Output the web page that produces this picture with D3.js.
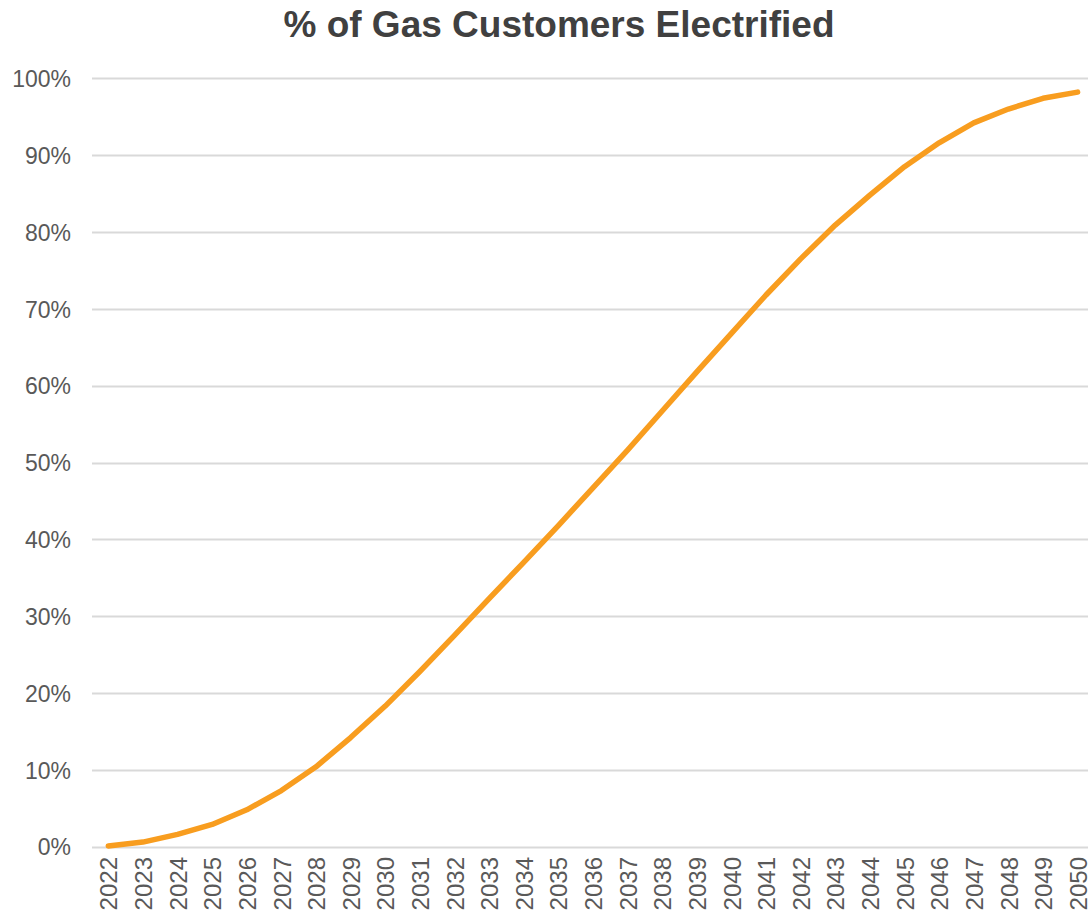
<!DOCTYPE html>
<html>
<head>
<meta charset="utf-8">
<script src="https://cdn.jsdelivr.net/npm/d3@7"></script>
<style>
  body { margin: 0; background: #fff; }
  .chart text { font-family: "Liberation Sans", Arial, sans-serif; }
</style>
</head>
<body>
<div class="chart"></div>
<script>
var years = ["2022", "2023", "2024", "2025", "2026", "2027", "2028", "2029", "2030", "2031",
    "2032", "2033", "2034", "2035", "2036", "2037", "2038", "2039", "2040", "2041",
    "2042", "2043", "2044", "2045", "2046", "2047", "2048", "2049", "2050"];
var electrified = [0.001, 0.006, 0.016, 0.029, 0.048, 0.073, 0.104, 0.142, 0.183, 0.228,
    0.275, 0.323, 0.370, 0.418, 0.467, 0.516, 0.567, 0.618, 0.668, 0.718,
    0.765, 0.809, 0.848, 0.885, 0.916, 0.942, 0.960, 0.974, 0.982];
var yTicks = [0, 0.1, 0.2, 0.3, 0.4, 0.5, 0.6, 0.7, 0.8, 0.9, 1.0];
var chartTitle = "% of Gas Customers Electrified";

var svgWidth = 1088;
var svgHeight = 917;

var svg = d3.select(".chart")
    .append("svg")
    .attr("width", svgWidth)
    .attr("height", svgHeight);

var xScale = d3.scalePoint()
    .domain(years)
    .range([108.3, 1077.6]);

var yScale = d3.scaleLinear()
    .domain([0, 1])
    .range([846.7, 78.3]);

// gridlines
svg.append("g")
    .selectAll("line")
    .data(yTicks)
    .enter()
    .append("line")
    .attr("x1", 92)
    .attr("x2", svgWidth)
    .attr("y1", function(d) { return Math.round(yScale(d)) + 0.5; })
    .attr("y2", function(d) { return Math.round(yScale(d)) + 0.5; })
    .attr("stroke", "#d9d9d9")
    .attr("stroke-width", 2);

// y axis labels
var leftAxis = d3.axisLeft(yScale)
    .tickValues(yTicks)
    .tickFormat(d3.format(".0%"))
    .tickSize(0)
    .tickPadding(0);

var yAxisG = svg.append("g")
    .attr("transform", "translate(71,0)")
    .call(leftAxis);
yAxisG.select(".domain").remove();
yAxisG.selectAll("text")
    .style("font-size", "23px")
    .attr("fill", "#595959")
    .attr("dy", "0.36em");

// x axis labels
var bottomAxis = d3.axisBottom(xScale)
    .tickSize(0)
    .tickPadding(0);

var xAxisG = svg.append("g")
    .attr("transform", "translate(0,857)")
    .call(bottomAxis);
xAxisG.select(".domain").remove();
xAxisG.selectAll("text")
    .style("font-size", "24px")
    .attr("fill", "#595959")
    .attr("text-anchor", "end")
    .attr("transform", "rotate(-90)")
    .attr("x", 0)
    .attr("y", 0)
    .attr("dx", 0)
    .attr("dy", "0.36em");

// line
var line = d3.line()
    .x(function(d, i) { return xScale(years[i]); })
    .y(function(d) { return yScale(d); });

svg.append("path")
    .datum(electrified)
    .attr("d", line)
    .attr("fill", "none")
    .attr("stroke", "#f89d1f")
    .attr("stroke-width", 5.5)
    .attr("stroke-linejoin", "round")
    .attr("stroke-linecap", "round");

// title
svg.append("text")
    .attr("x", 559)
    .attr("y", 37)
    .attr("text-anchor", "middle")
    .style("font-size", "37px")
    .style("font-weight", "bold")
    .attr("fill", "#404040")
    .text(chartTitle);
</script>
</body>
</html>
